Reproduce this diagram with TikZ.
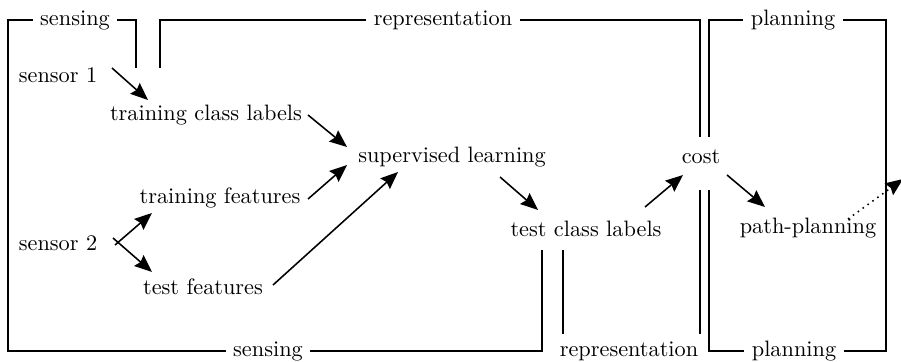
\documentclass[tikz,border=0pt]{standalone}
\usetikzlibrary{arrows.meta,calc}
\begin{document}
\begin{tikzpicture}[x=0.4484pt,y=-0.4484pt,
  lbl/.style={fill=white,inner sep=3.33pt},
  frame/.style={line width=0.85pt},
  arr/.style={line width=0.7pt,-{Stealth[length=7.8pt,width=6.4pt,inset=1pt]}},
  dotarr/.style={line width=0.7pt,dotted,-{Stealth[length=7.8pt,width=6.4pt,inset=1pt]}}]
\useasboundingbox (0,0) rectangle (901,362);
% frames
\draw[frame] (136,68) -- (136,20) -- (8,20) -- (8,351) -- (542,351) -- (542,250);
\draw[frame] (160,68) -- (160,20) -- (700,20) -- (700,137);
\draw[frame] (563,250) -- (563,351) -- (700,351) -- (700,190);
\draw[frame] (709,137) -- (709,20) -- (886,20) -- (886,351) -- (709,351) -- (709,190);
% frame labels
\node[lbl] (ls1) at (75,20) {sensing};
\node[lbl] (lr1) at (443,20) {representation};
\node[lbl] (lp1) at (793,20) {planning};
\node[lbl] (ls2) at (268,351) {sensing};
\node[lbl] (lr2) at (629,351) {representation};
\node[lbl] (lp2) at (794,351) {planning};
% nodes
\node (s1) at (58,75) {sensor 1};
\node (tcl) at (206,115) {training class labels};
\node (sl) at (452,157) {supervised learning};
\node (tf) at (220,198) {training features};
\node (s2) at (58,243) {sensor 2};
\node (tsf) at (203,287) {test features};
\node (tcls) at (586,229) {test class labels};
\node (cost) at (701,157) {cost};
\node (pp) at (808,228) {path-planning};
\coordinate (out) at (903,179);
% arrows
\draw[arr] ($(s1)+(54,-7)$) -- ($(tcl)+(-58,-15)$);
\draw[arr] ($(tcl)+(102,0)$) -- ($(sl)+(-105,-10)$);
\draw[arr] ($(tf)+(88,1)$) -- ($(sl)+(-105,8)$);
\draw[arr] ($(tsf)+(70,-2)$) -- ($(sl)+(-54,15)$);
\draw[arr] ($(s2)+(57,2)$) -- ($(tf)+(-68,15)$);
\draw[arr] ($(s2)+(55,-5)$) -- ($(tsf)+(-51,-15)$);
\draw[arr] ($(sl)+(48,20)$) -- ($(tcls)+(-48,-19)$);
\draw[arr] ($(tcls)+(59,-22)$) -- ($(cost)+(-18,18)$);
\draw[arr] ($(cost)+(26,18)$) -- ($(pp)+(-43,-21)$);
\draw[dotarr] ($(pp)+(40,-9)$) -- (out);
\end{tikzpicture}
\end{document}
